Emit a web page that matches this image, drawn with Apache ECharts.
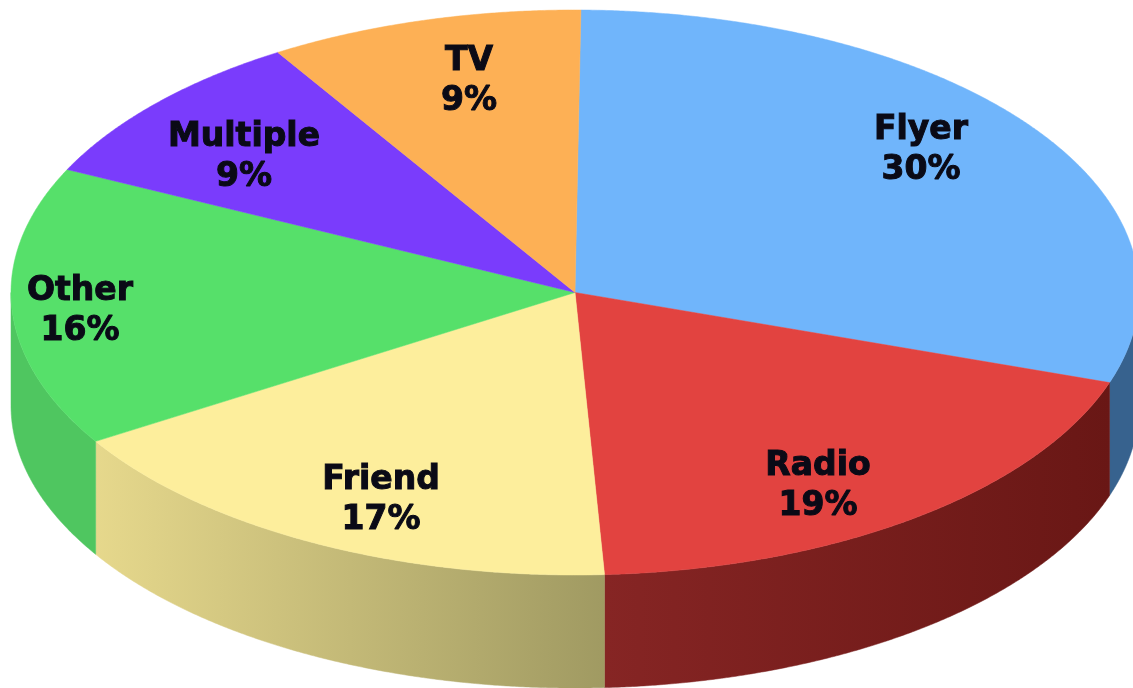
<!DOCTYPE html>
<html>
<head>
<meta charset="utf-8">
<style>
  html, body { margin: 0; padding: 0; background: #ffffff; overflow: hidden; }
  #chart { width: 1133px; height: 688px; }
</style>
<script src="https://cdn.jsdelivr.net/npm/echarts@6/dist/echarts.min.js"></script>
</head>
<body>
<div id="chart"></div>
<script>
// Where respondents heard about us, share in percent, clockwise from 12 o'clock.
const categories = ['Flyer', 'Radio', 'Friend', 'Other', 'Multiple', 'TV'];
const shares = [30, 19, 17, 16, 9, 9];

// Slice colours: top face, then the rim's left and right shades.
const faceColors = ['#70b5fb', '#e24340', '#fdee9c', '#56e06a', '#7a3cfc', '#fdb055'];
const rimColors = [
  ['#37628e', '#37628e'],
  ['#862524', '#691715'],
  ['#e6d88c', '#a09a62'],
  ['#4fc660', '#4fc660'],
  ['#4a2a9c', '#4a2a9c'],
  ['#a87a3c', '#a87a3c']
];

// Pixel centre of each two-line caption.
const captionSpots = [[921, 150], [818, 486], [381, 500], [80, 311], [244, 157], [469, 81]];

// Tilted disc layout; turn is the clockwise offset of the first slice, in radians.
const disc = { cx: 575, cy: 292.5, rx: 564, ry: 282.5, depth: 113, turn: 0.6 * Math.PI / 180 };

const total = shares.reduce((sum, v) => sum + v, 0);
const startShares = shares.map((_, i) => shares.slice(0, i).reduce((sum, v) => sum + v, 0));

// Angle in radians, clockwise from the top of the disc.
const toAngle = share => (share / total) * Math.PI * 2 + disc.turn;
const rimPoint = (angle, drop) => [
  disc.cx + disc.rx * Math.sin(angle),
  disc.cy - disc.ry * Math.cos(angle) + drop
];
function arcPoints(from, to, drop) {
  const steps = Math.max(2, Math.ceil(Math.abs(to - from) / 0.005));
  const points = [];
  for (let s = 0; s <= steps; s++) {
    points.push(rimPoint(from + (to - from) * s / steps, drop));
  }
  return points;
}

function renderRim(params, api) {
  const i = params.dataIndex;
  const from = Math.max(toAngle(startShares[i]), Math.PI / 2);
  const to = Math.min(toAngle(startShares[i] + api.value(1)), Math.PI * 1.5);
  if (to <= from) return null;
  const points = arcPoints(from, to, 0).concat(arcPoints(to, from, disc.depth));
  const fill = new echarts.graphic.LinearGradient(0, 0, 1, 0, [
    { offset: 0, color: rimColors[i][0] },
    { offset: 1, color: rimColors[i][1] }
  ]);
  return { type: 'polygon', shape: { points }, style: { fill, stroke: fill, lineWidth: 0.5 } };
}

function renderFace(params, api) {
  const i = params.dataIndex;
  const from = toAngle(startShares[i]);
  const to = toAngle(startShares[i] + api.value(1));
  const points = [[disc.cx, disc.cy]].concat(arcPoints(from, to, 0));
  return {
    type: 'polygon',
    shape: { points },
    style: { fill: faceColors[i], stroke: faceColors[i], lineWidth: 0.5 }
  };
}

function renderCaption(params, api) {
  const i = params.dataIndex;
  return {
    type: 'text',
    style: {
      x: captionSpots[i][0],
      y: captionSpots[i][1],
      text: categories[i] + '\n' + api.value(1) + '%',
      font: 'bold 33px "DejaVu Sans"',
      lineHeight: 40,
      align: 'center',
      verticalAlign: 'middle',
      fill: '#0a0a16',
      stroke: '#0a0a16',
      lineWidth: 1
    }
  };
}

const rows = categories.map((name, i) => [name, shares[i]]);
const layer = (name, renderItem, z) => ({
  type: 'custom',
  name,
  coordinateSystem: 'none',
  renderItem,
  data: rows,
  z,
  silent: true,
  animation: false,
  clip: false
});

const chart = echarts.init(document.getElementById('chart'), null, { renderer: 'canvas' });
chart.setOption({
  backgroundColor: '#ffffff',
  animation: false,
  series: [
    layer('rim', renderRim, 1),
    layer('face', renderFace, 2),
    layer('caption', renderCaption, 3)
  ]
});
</script>
</body>
</html>
